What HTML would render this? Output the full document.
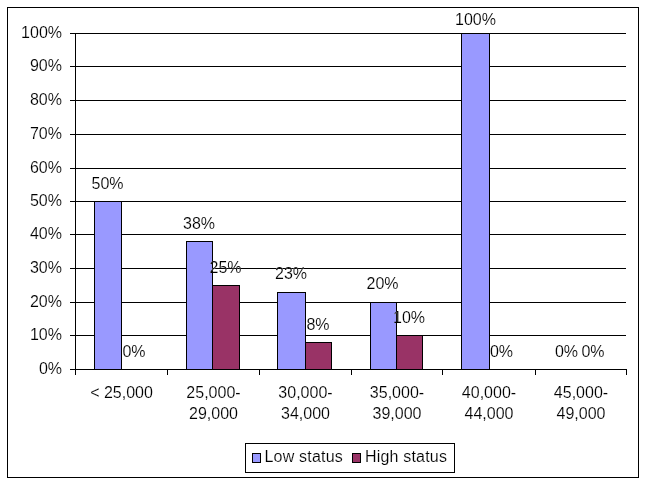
<!DOCTYPE html>
<html><head><meta charset="utf-8"><title>Chart</title>
<style>
html,body{margin:0;padding:0;background:#fff;}
svg{display:block;}
text{font-family:"Liberation Sans",Arial,Helvetica,sans-serif;font-size:16px;fill:#000;stroke:#fff;stroke-width:0.15px;}
rect{shape-rendering:crispEdges;}
</style></head><body>
<svg xmlns="http://www.w3.org/2000/svg" width="645" height="483" viewBox="0 0 645 483">
<rect x="0" y="0" width="645" height="483" fill="#fff"/>
<rect x="7.5" y="7.5" width="631" height="470" fill="#fff" stroke="#000" stroke-width="1"/>
<rect x="70" y="369" width="557" height="1" fill="#000"/>
<rect x="70" y="335" width="556" height="1" fill="#000"/>
<rect x="70" y="302" width="556" height="1" fill="#000"/>
<rect x="70" y="268" width="556" height="1" fill="#000"/>
<rect x="70" y="234" width="556" height="1" fill="#000"/>
<rect x="70" y="201" width="556" height="1" fill="#000"/>
<rect x="70" y="168" width="556" height="1" fill="#000"/>
<rect x="70" y="134" width="556" height="1" fill="#000"/>
<rect x="70" y="100" width="556" height="1" fill="#000"/>
<rect x="70" y="66" width="556" height="1" fill="#000"/>
<rect x="70" y="33" width="556" height="1" fill="#000"/>
<rect x="75" y="33" width="1" height="342" fill="#000"/>
<rect x="167" y="369" width="1" height="6" fill="#000"/>
<rect x="259" y="369" width="1" height="6" fill="#000"/>
<rect x="351" y="369" width="1" height="6" fill="#000"/>
<rect x="442" y="369" width="1" height="6" fill="#000"/>
<rect x="535" y="369" width="1" height="6" fill="#000"/>
<rect x="626" y="369" width="1" height="6" fill="#000"/>
<rect x="94.5" y="201.5" width="27" height="168" fill="#9999ff" stroke="#000" stroke-width="1"/>
<rect x="186.5" y="241.5" width="26" height="128" fill="#9999ff" stroke="#000" stroke-width="1"/>
<rect x="212.5" y="285.5" width="27" height="84" fill="#993366" stroke="#000" stroke-width="1"/>
<rect x="277.5" y="292.5" width="28" height="77" fill="#9999ff" stroke="#000" stroke-width="1"/>
<rect x="305.5" y="342.5" width="26" height="27" fill="#993366" stroke="#000" stroke-width="1"/>
<rect x="370.5" y="302.5" width="26" height="67" fill="#9999ff" stroke="#000" stroke-width="1"/>
<rect x="396.5" y="335.5" width="26" height="34" fill="#993366" stroke="#000" stroke-width="1"/>
<rect x="461.5" y="33.5" width="28" height="336" fill="#9999ff" stroke="#000" stroke-width="1"/>
<text x="62" y="374" text-anchor="end">0%</text>
<text x="62" y="340" text-anchor="end">10%</text>
<text x="62" y="307" text-anchor="end">20%</text>
<text x="62" y="273" text-anchor="end">30%</text>
<text x="62" y="239" text-anchor="end">40%</text>
<text x="62" y="206" text-anchor="end">50%</text>
<text x="62" y="173" text-anchor="end">60%</text>
<text x="62" y="139" text-anchor="end">70%</text>
<text x="62" y="105" text-anchor="end">80%</text>
<text x="62" y="71" text-anchor="end">90%</text>
<text x="62" y="38" text-anchor="end">100%</text>
<text x="107.5" y="189" text-anchor="middle">50%</text>
<text x="134" y="357" text-anchor="middle">0%</text>
<text x="199" y="229" text-anchor="middle">38%</text>
<text x="225.5" y="273" text-anchor="middle">25%</text>
<text x="291" y="279" text-anchor="middle">23%</text>
<text x="318" y="329.5" text-anchor="middle">8%</text>
<text x="382.5" y="289" text-anchor="middle">20%</text>
<text x="409" y="323" text-anchor="middle">10%</text>
<text x="475.5" y="25" text-anchor="middle">100%</text>
<text x="501.5" y="357" text-anchor="middle">0%</text>
<text x="566.5" y="357" text-anchor="middle">0%</text>
<text x="593" y="357" text-anchor="middle">0%</text>
<text x="121.5" y="398" text-anchor="middle">&lt; 25,000</text>
<text x="213.5" y="398" text-anchor="middle">25,000-</text>
<text x="213.5" y="419" text-anchor="middle">29,000</text>
<text x="305.5" y="398" text-anchor="middle">30,000-</text>
<text x="305.5" y="419" text-anchor="middle">34,000</text>
<text x="397.0" y="398" text-anchor="middle">35,000-</text>
<text x="397.0" y="419" text-anchor="middle">39,000</text>
<text x="489.0" y="398" text-anchor="middle">40,000-</text>
<text x="489.0" y="419" text-anchor="middle">44,000</text>
<text x="581.0" y="398" text-anchor="middle">45,000-</text>
<text x="581.0" y="419" text-anchor="middle">49,000</text>
<rect x="245.5" y="443.5" width="209" height="29" fill="#fff" stroke="#000" stroke-width="1"/>
<rect x="252.5" y="453.5" width="8" height="9" fill="#9999ff" stroke="#000" stroke-width="1"/>
<text x="264.5" y="462" style="letter-spacing:0.2px">Low status</text>
<rect x="352.5" y="453.5" width="8" height="9" fill="#993366" stroke="#000" stroke-width="1"/>
<text x="364.9" y="462" style="letter-spacing:0.2px">High status</text>
</svg>
</body></html>
